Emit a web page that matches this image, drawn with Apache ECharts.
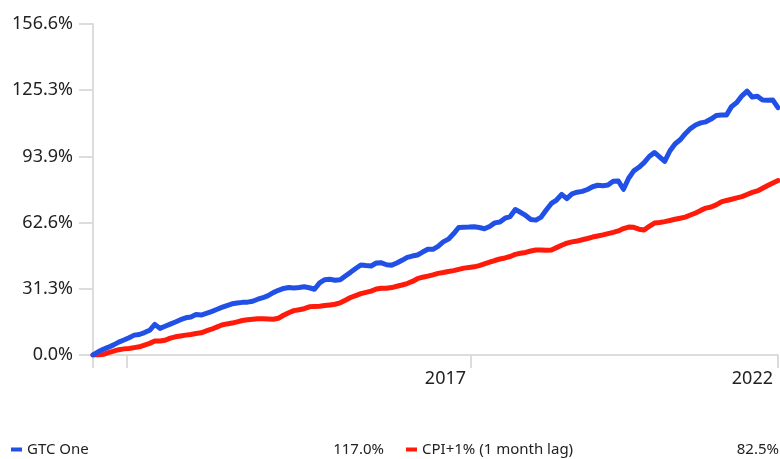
<!DOCTYPE html>
<html>
<head>
<meta charset="utf-8">
<script src="https://cdn.jsdelivr.net/npm/echarts@6/dist/echarts.min.js"></script>
<style>
  html, body { margin: 0; padding: 0; background: #fff; }
  #myChart { width: 780px; height: 459px; }
</style>
</head>
<body>
<div id="myChart"></div>
<script>
// series names and the latest value shown in the legend
var seriesNames = ["GTC One", "CPI+1% (1 month lag)"];
var legendValues = ["117.0%", "82.5%"];

// cumulative return (%), monthly points from inception
var gtcOne = [
  0, 1.5, 2.7, 3.7, 4.8, 6.1, 7.1, 8.2, 9.4, 9.7,
  10.6, 11.7, 14.5, 12.6, 13.6, 14.6, 15.6, 16.7, 17.6, 18.0,
  19.2, 18.9, 19.7, 20.5, 21.5, 22.5, 23.4, 24.2, 24.6, 24.9,
  25.0, 25.4, 26.4, 27.1, 28.1, 29.5, 30.6, 31.5, 31.9, 31.7,
  31.9, 32.3, 31.8, 31.1, 34.1, 35.6, 35.8, 35.4, 35.6, 37.4,
  39.1, 40.9, 42.6, 42.3, 42.1, 43.5, 43.6, 42.7, 42.5, 43.5,
  44.8, 46.2, 46.8, 47.3, 48.7, 50.0, 50.0, 51.4, 53.5, 54.8,
  57.3, 60.3, 60.4, 60.5, 60.7, 60.3, 59.7, 60.8, 62.5, 62.9,
  64.7, 65.5, 68.8, 67.5, 66.0, 64.1, 63.8, 65.2, 68.6, 71.7,
  73.3, 76.0, 74.0, 76.2, 77.0, 77.4, 78.3, 79.6, 80.3, 80.1,
  80.4, 82.2, 82.3, 78.4, 83.6, 87.1, 88.8, 91.0, 93.9, 95.8,
  93.7, 91.6, 96.5, 99.8, 101.8, 104.7, 107.1, 108.8, 109.8, 110.3,
  111.6, 113.3, 113.5, 113.5, 117.6, 119.4, 122.6, 124.8, 122.0, 122.4,
  120.6, 120.5, 120.6, 117.0
];
var cpiPlus1 = [
  0, 0, 0.3, 1.1, 1.8, 2.5, 2.9, 3.1, 3.5, 3.9,
  4.7, 5.5, 6.6, 6.6, 7.0, 8.0, 8.6, 9.0, 9.4, 9.7,
  10.2, 10.5, 11.4, 12.2, 13.2, 14.2, 14.7, 15.1, 15.7, 16.3,
  16.7, 16.9, 17.1, 17.1, 17.0, 16.9, 17.4, 18.8, 20.0, 21.0,
  21.4, 21.9, 22.8, 23.0, 23.1, 23.4, 23.7, 24.0, 24.7, 25.9,
  27.2, 28.1, 29.0, 29.6, 30.2, 31.2, 31.6, 31.6, 31.9, 32.5,
  33.1, 33.8, 34.8, 36.1, 36.8, 37.3, 37.9, 38.6, 39.0, 39.5,
  39.9, 40.5, 41.1, 41.4, 41.7, 42.3, 43.1, 43.9, 44.7, 45.4,
  45.9, 46.6, 47.6, 48.1, 48.5, 49.2, 49.7, 49.7, 49.5, 49.7,
  50.8, 51.9, 52.9, 53.5, 53.9, 54.5, 55.1, 55.8, 56.3, 56.8,
  57.4, 58.0, 58.7, 59.8, 60.5, 60.4, 59.5, 59.1, 60.9, 62.4,
  62.7, 63.1, 63.6, 64.2, 64.7, 65.2, 66.2, 67.2, 68.4, 69.5,
  70.0, 71.0, 72.4, 73.1, 73.7, 74.3, 74.9, 75.9, 76.9, 77.6,
  78.9, 80.2, 81.4, 82.5
];

// x axis ticks (month index) and the year labels
var xTickPositions = [0, 6.6, 73.4, 133];
var xLabelPositions = [73.4, 133];
var xLabelTexts = ["2017", "2022"];

// y axis ticks
var yInterval = 31.315;
var yTickLabels = ["0.0%", "31.3%", "62.6%", "93.9%", "125.3%", "156.6%"];

function toPairs(arr) {
  return arr.map(function (v, i) { return [i, v]; });
}

var font = "'Noto Sans', sans-serif";
var myChart = echarts.init(document.getElementById("myChart"));
myChart.setOption({
  animation: false,
  backgroundColor: "#fff",
  grid: {
    left: 93,
    right: 2,
    top: 24,
    bottom: 104
  },
  legend: {
    left: 11,
    top: 442,
    width: 775,
    padding: 0,
    icon: "rect",
    itemWidth: 11,
    itemHeight: 4,
    itemGap: 22,
    data: seriesNames,
    formatter: function (name) {
      var v = legendValues[seriesNames.indexOf(name)];
      return "{n|" + name + "}{v|" + v + "}";
    },
    textStyle: {
      fontFamily: font,
      fontSize: 15,
      color: "#222",
      rich: {
        n: { fontFamily: font, fontSize: 15, color: "#222", width: 300 },
        v: { fontFamily: font, fontSize: 15, color: "#222", width: 57, align: "right" }
      }
    }
  },
  xAxis: {
    type: "value",
    min: 0,
    max: gtcOne.length - 1,
    splitLine: { show: false },
    axisLine: { show: true, lineStyle: { color: "#dcdcdc", width: 2 } },
    axisTick: {
      show: true,
      length: 13,
      customValues: xTickPositions,
      lineStyle: { color: "#dcdcdc", width: 2 }
    },
    axisLabel: {
      customValues: xLabelPositions,
      fontFamily: font,
      fontSize: 18,
      color: "#222",
      margin: 15,
      align: "right",
      padding: [0, 5, 0, 0],
      formatter: function (v) {
        var k = xLabelPositions.indexOf(v);
        return k >= 0 ? xLabelTexts[k] : "";
      }
    }
  },
  yAxis: {
    type: "value",
    min: 0,
    max: yInterval * 5,
    interval: yInterval,
    splitLine: { show: false },
    axisLine: { show: true, lineStyle: { color: "#dcdcdc", width: 2 } },
    axisTick: { show: true, length: 14, lineStyle: { color: "#dcdcdc", width: 2 } },
    axisLabel: {
      fontFamily: font,
      fontSize: 18,
      color: "#222",
      margin: 20,
      formatter: function (v) {
        return yTickLabels[Math.round(v / yInterval)];
      }
    }
  },
  series: [
    {
      name: seriesNames[0],
      type: "line",
      z: 3,
      symbol: "none",
      color: "#2150e6",
      lineStyle: { width: 5, join: "round", cap: "round" },
      data: toPairs(gtcOne)
    },
    {
      name: seriesNames[1],
      type: "line",
      z: 2,
      symbol: "none",
      color: "#ff1a0a",
      lineStyle: { width: 5, join: "round", cap: "round" },
      data: toPairs(cpiPlus1)
    }
  ]
});
</script>
</body>
</html>
